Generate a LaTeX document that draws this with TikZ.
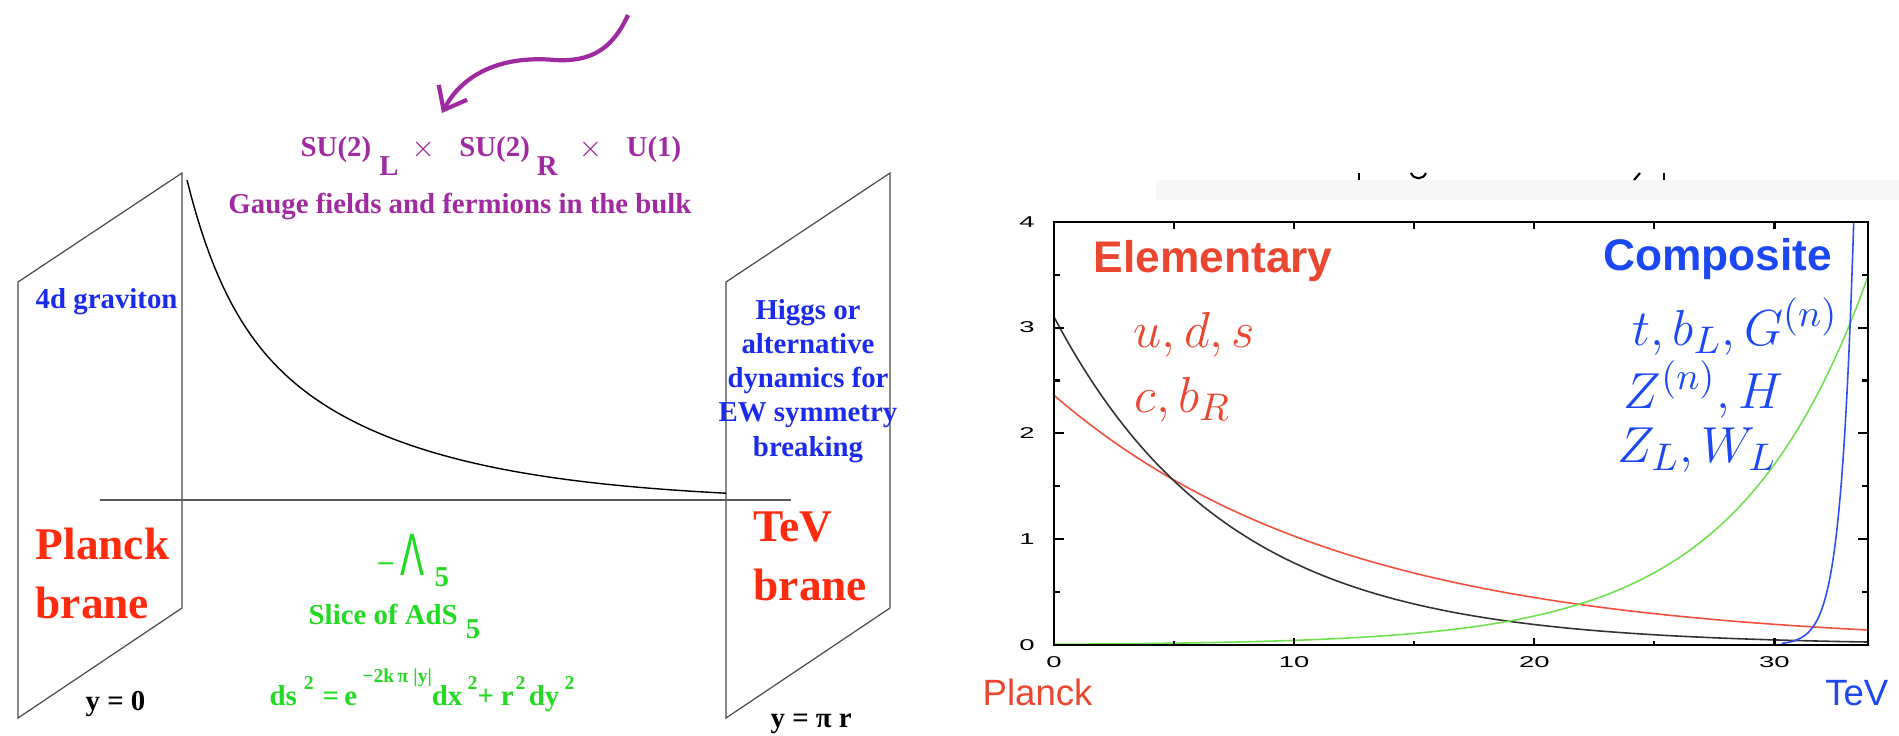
\documentclass[tikz,border=0pt]{standalone}
\usepackage[no-math]{fontspec}
\setmainfont{Liberation Serif}
\newfontfamily\plotsans{Liberation Sans}
\usepackage{graphicx}
\usepackage{tikz}
\usetikzlibrary{arrows.meta}
\definecolor{bulkPurple}{HTML}{A02AA0}
\definecolor{braneRed}{HTML}{FF2B0F}
\definecolor{gravBlue}{HTML}{1A2BEB}
\definecolor{adsGreen}{HTML}{22DA22}
\definecolor{plotRed}{HTML}{EA4630}
\definecolor{plotBlue}{HTML}{1C48F2}
\definecolor{curveRed}{HTML}{F0503C}
\definecolor{curveGreen}{HTML}{70E050}
\definecolor{curveBlue}{HTML}{2E50F0}
\definecolor{curveBlack}{HTML}{333333}
\newcommand{\upnum}[1]{\raisebox{4.3pt}{\fontsize{5.6}{6}\selectfont #1}}
\newcommand{\ticklab}[1]{\scalebox{1}[0.57]{#1}}

\begin{document}
\begin{tikzpicture}[x=0.01cm, y=-0.01cm,
  lbl/.style={inner sep=0pt, font=\fontsize{8.2}{9.7}\selectfont\bfseries},
  bigl/.style={inner sep=0pt, align=left, text=braneRed, font=\fontsize{12.9}{16.5}\selectfont\bfseries},
  brane/.style={draw=black!70, line width=0.35pt},
  plotlbl/.style={inner sep=0pt, font=\plotsans\bfseries\fontsize{12.6}{14}\selectfont},
  mathlbl/.style={inner sep=0pt, font=\fontsize{15}{18}\selectfont},
  ticklbl/.style={inner sep=0pt, font=\plotsans\fontsize{7.8}{8}\selectfont},
  crv/.style={line width=0.45pt, samples=120},
  arr/.style={-{Straight Barb[length=2mm,width=3.2mm]}, line width=1.2pt, bulkPurple}
]
\useasboundingbox (0,0) rectangle (1899,735);

% branes and bulk
\draw[brane] (18,282) -- (182,173) -- (182,608) -- (18,718) -- cycle;
\draw[brane] (726,282) -- (890,173) -- (890,608) -- (726,718) -- cycle;
\draw[black!65, line width=0.5pt] (100,500) -- (791,500);
\draw[black, line width=0.4pt] plot[domain=187:726, samples=120]
  (\x, {502-112*exp(-(\x-187)/40)-210*exp(-(\x-187)/170)});

% gauge group
\coordinate (wavestart) at (628,15);
\coordinate (wavetip) at (442,113);
\draw[arr] (wavestart) .. controls (612,50) and (590,62) .. (555,60)
  .. controls (500,55) and (462,75) .. (wavetip);
\node[lbl, text=bulkPurple, anchor=base west] (group) at (300,156)
  {SU(2)\hspace{2.3pt}\raisebox{-5.4pt}{L}\hspace{3.7pt}$\times$\hspace{7pt}SU(2)\hspace{2pt}\raisebox{-5.4pt}{R}\hspace{6pt}$\times$\hspace{7pt}U(1)};
\node[lbl, text=bulkPurple, anchor=base] (bulk) at (460,213) {Gauge fields and fermions in the bulk};

\node[lbl, text=gravBlue, anchor=base west] (grav) at (35,308) {4d graviton};
\node[lbl, text=gravBlue, anchor=base, align=center] (higgs) at (808,456)
  {Higgs or\\alternative\\dynamics for\\EW symmetry\\breaking};

\node[bigl, anchor=base west] (planck) at (35,618) {Planck\\brane};
\node[bigl, anchor=base west] (tev) at (753,600) {TeV\\brane};

\node[lbl, text=adsGreen, anchor=base west] (lambda) at (378,575)
  {\raisebox{1.2pt}{–}\hspace{2.2pt}{\plotsans\mdseries\fontsize{17}{17}\selectfont\scalebox{0.6}[1]{Λ}}\hspace{2.8pt}\raisebox{-3.4pt}{5}};
\node[lbl, text=adsGreen, anchor=base west] (slice) at (308,624)
  {Slice of AdS\hspace{2.3pt}\raisebox{-4pt}{5}};
\node[lbl, text=adsGreen, anchor=base west] (metric) at (269,705)
  {ds\hspace{2pt}\upnum{2}\hspace{2.5pt}=\hspace{1.5pt}e\hspace{1.5pt}\raisebox{6.3pt}{\fontsize{5.6}{6}\selectfont −2k\,π |y|}dx\hspace{1.5pt}\upnum{2}+\hspace{2pt}r\hspace{0.5pt}\upnum{2}\hspace{1pt}dy\hspace{1.5pt}\upnum{2}};

\node[lbl, anchor=base west] (yzero) at (85,710) {y = 0};
\node[lbl, anchor=base west] (ypir) at (770,727) {y = π r};

% cut-off title remnant
\fill[black!3] (1156,180) rectangle (1899,200);
\draw[black, line width=0.6pt] (1359,173) -- (1359,180);
\draw[black, line width=0.6pt] (1411,173) .. controls (1414,180) and (1423,180) .. (1426,173);
\draw[black, line width=0.6pt] (1640,173) -- (1634,180);
\draw[black, line width=0.6pt] (1664,173) -- (1664,180);

% profiles
\begin{scope}[shift={(1054,645)}, x=0.24cm, y=1.0575cm]
  \draw[crv, curveRed, domain=0:33.9] plot (\x,{2.36*exp(-0.083*\x)});
  \draw[crv, curveBlack, domain=0:33.9] plot (\x,{3.1*exp(-0.1386*\x)});
  \draw[crv, curveGreen, domain=0:33.9] plot (\x,{0.00705*exp(0.183*\x)});
  \draw[crv, curveBlue, domain=30.3:33.3] plot (\x,{0.17*exp(1.857*(\x-31.6))});
  \draw[line width=0.6pt] (0,0) rectangle (33.9,4);
  \foreach \t in {0,10,20,30} {
    \draw[line width=0.6pt] (\t,0) -- (\t,0.07);
    \draw[line width=0.6pt] (\t,4) -- (\t,3.93);
    \node[ticklbl] (xl\t) at (\t,-0.16) {\ticklab{\t}};
  }
  \foreach \t in {5,15,25} {
    \draw[line width=0.6pt] (\t,0) -- (\t,0.035);
    \draw[line width=0.6pt] (\t,4) -- (\t,3.93);
  }
  \foreach \t in {0,1,2,3,4} {
    \draw[line width=0.6pt] (0,\t) -- (0.42,\t);
    \draw[line width=0.6pt] (33.9,\t) -- (33.48,\t);
    \node[ticklbl] (yl\t) at (-1.125,\t) {\ticklab{\t}};
  }
  \foreach \t in {0.5,1.5,2.5,3.5} {
    \draw[line width=0.6pt] (0,\t) -- (0.25,\t);
    \draw[line width=0.6pt] (33.9,\t) -- (33.65,\t);
  }
\end{scope}

\node[plotlbl, text=plotRed, anchor=base west] (elem) at (1093,272) {Elementary};
\node[plotlbl, text=plotBlue, anchor=base east] (comp) at (1833,270) {Composite};
\node[mathlbl, text=plotRed, anchor=base west] (light1) at (1133,347) {$u, d, s$};
\node[mathlbl, text=plotRed, anchor=base west] (light2) at (1134,412) {$c, b_R$};
\node[mathlbl, text=plotBlue, anchor=base west] (heavy1) at (1632,345) {$t, b_L, G^{(n)}$};
\node[mathlbl, text=plotBlue, anchor=base west] (heavy2) at (1623,408) {$Z^{(n)}, H$};
\node[mathlbl, text=plotBlue, anchor=base west] (heavy3) at (1617,462) {$Z_L, W_L$};
\node[inner sep=0pt, text=plotRed, anchor=base west, font=\plotsans\fontsize{10.4}{12}\selectfont] (uvend) at (982,705) {Planck};
\node[inner sep=0pt, text=plotBlue, anchor=base east, font=\plotsans\fontsize{10.4}{12}\selectfont] (irend) at (1889,705) {TeV};
\end{tikzpicture}
\end{document}
